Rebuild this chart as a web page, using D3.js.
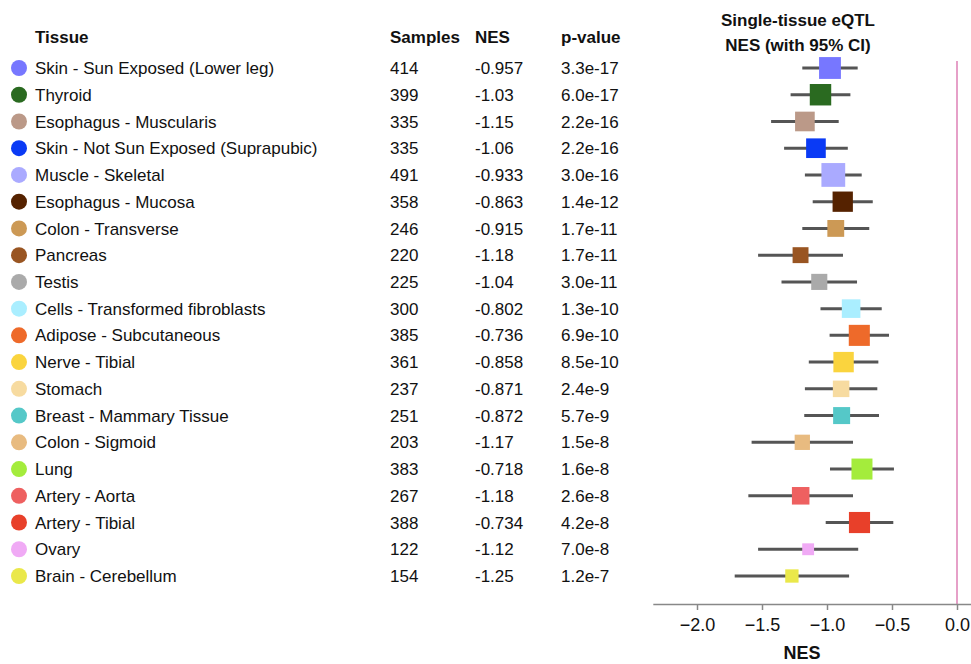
<!DOCTYPE html>
<html>
<head>
<meta charset="utf-8">
<script src="https://cdn.jsdelivr.net/npm/d3@7"></script>
<style>
  body { margin: 0; background: #fff; }
  svg text { font-family: Helvetica, Arial, "Liberation Sans", sans-serif; fill: #111; }
</style>
</head>
<body>
<script>
// table rows, top to bottom
const tissues = [
  "Skin - Sun Exposed (Lower leg)", "Thyroid", "Esophagus - Muscularis",
  "Skin - Not Sun Exposed (Suprapubic)", "Muscle - Skeletal", "Esophagus - Mucosa",
  "Colon - Transverse", "Pancreas", "Testis", "Cells - Transformed fibroblasts",
  "Adipose - Subcutaneous", "Nerve - Tibial", "Stomach", "Breast - Mammary Tissue",
  "Colon - Sigmoid", "Lung", "Artery - Aorta", "Artery - Tibial", "Ovary",
  "Brain - Cerebellum"
];
const samples = [414, 399, 335, 335, 491, 358, 246, 220, 225, 300, 385, 361, 237, 251, 203, 383, 267, 388, 122, 154];
const nes = [-0.957, -1.03, -1.15, -1.06, -0.933, -0.863, -0.915, -1.18, -1.04, -0.802,
             -0.736, -0.858, -0.871, -0.872, -1.17, -0.718, -1.18, -0.734, -1.12, -1.25];
const pvalues = ["3.3e-17", "6.0e-17", "2.2e-16", "2.2e-16", "3.0e-16", "1.4e-12", "1.7e-11",
                 "1.7e-11", "3.0e-11", "1.3e-10", "6.9e-10", "8.5e-10", "2.4e-9", "5.7e-9",
                 "1.5e-8", "1.6e-8", "2.6e-8", "4.2e-8", "7.0e-8", "1.2e-7"];
// 95% CI bounds
const ciLow  = [-1.19, -1.28, -1.43, -1.33, -1.17, -1.11, -1.19, -1.53, -1.35, -1.05,
                -0.98, -1.14, -1.17, -1.175, -1.58, -0.977, -1.605, -1.01, -1.53, -1.71];
const ciHigh = [-0.764, -0.82, -0.91, -0.84, -0.733, -0.648, -0.675, -0.877, -0.769, -0.579,
                -0.523, -0.605, -0.613, -0.60, -0.80, -0.485, -0.80, -0.49, -0.76, -0.83];
const colors = ["#7777ff", "#2a6a20", "#bb9988", "#0a3af5", "#aaaaff", "#552200",
                "#cc9955", "#995522", "#aaaaaa", "#aaeeff", "#ee6a2a", "#fad43e",
                "#f7dba0", "#55c8c8", "#e8bb80", "#a4ec3c", "#ee6060", "#e8402a",
                "#f0aaf5", "#eae84a"];
const xTicks = [-2.0, -1.5, -1.0, -0.5, 0.0];

const width = 971, height = 664;
const fontSize = "17px";

const svg = d3.select("body").append("svg")
  .attr("width", width)
  .attr("height", height);

const rows = tissues.map((t, i) => ({
  tissue: t, samples: samples[i], nes: nes[i], p: pvalues[i],
  lo: ciLow[i], hi: ciHigh[i], color: colors[i]
}));

const y = d3.scalePoint().domain(tissues).range([68, 576]);
const x = d3.scaleLinear().domain([-2.34, 0.12]).range([652.8, 972.6]);
const boxSize = d3.scaleSqrt().domain([0, 500]).range([0, 24]);

// headers
const headers = [["Tissue", 35], ["Samples", 390], ["NES", 475], ["p-value", 561]];
svg.append("g").selectAll("text")
  .data(headers)
  .join("text")
  .attr("x", d => d[1])
  .attr("y", 43)
  .attr("font-size", fontSize)
  .attr("font-weight", "bold")
  .text(d => d[0]);

// table rows
const row = svg.append("g").selectAll("g")
  .data(rows)
  .join("g")
  .attr("transform", d => `translate(0, ${y(d.tissue)})`);

row.append("circle")
  .attr("cx", 19)
  .attr("r", 8)
  .attr("fill", d => d.color);

row.append("text").attr("x", 35).attr("dy", "0.36em").attr("font-size", fontSize).text(d => d.tissue);
row.append("text").attr("x", 390).attr("dy", "0.36em").attr("font-size", fontSize).text(d => d.samples);
row.append("text").attr("x", 475).attr("dy", "0.36em").attr("font-size", fontSize).text(d => d.nes);
row.append("text").attr("x", 561).attr("dy", "0.36em").attr("font-size", fontSize).text(d => d.p);

// plot title
svg.append("text")
  .attr("x", 798).attr("y", 26)
  .attr("text-anchor", "middle")
  .attr("font-size", fontSize).attr("font-weight", "bold")
  .text("Single-tissue eQTL");
svg.append("text")
  .attr("x", 798).attr("y", 51)
  .attr("text-anchor", "middle")
  .attr("font-size", fontSize).attr("font-weight", "bold")
  .text("NES (with 95% CI)");

// zero line
svg.append("line")
  .attr("x1", x(0)).attr("x2", x(0))
  .attr("y1", 61).attr("y2", 604)
  .attr("stroke", "#e6a0c8")
  .attr("stroke-width", 2);

// CI lines
svg.append("g").selectAll("line")
  .data(rows)
  .join("line")
  .attr("x1", d => x(d.lo))
  .attr("x2", d => x(d.hi))
  .attr("y1", d => y(d.tissue))
  .attr("y2", d => y(d.tissue))
  .attr("stroke", "#555")
  .attr("stroke-width", 3);

// effect boxes, centred on the CI middle like in the original
svg.append("g").selectAll("rect")
  .data(rows)
  .join("rect")
  .attr("x", d => x((d.lo + d.hi) / 2) - boxSize(d.samples) / 2)
  .attr("y", d => y(d.tissue) - boxSize(d.samples) / 2)
  .attr("width", d => boxSize(d.samples))
  .attr("height", d => boxSize(d.samples))
  .attr("fill", d => d.color);

// x axis
const axis = svg.append("g")
  .attr("transform", "translate(0, 604)")
  .call(d3.axisBottom(x).tickValues(xTicks).tickFormat(d3.format(".1f")).tickSizeOuter(0).tickPadding(8));
axis.select(".domain").attr("stroke", "#888").attr("stroke-width", 1.5);
axis.selectAll(".tick line").attr("stroke", "#888").attr("stroke-width", 1.5);
axis.selectAll(".tick text")
  .attr("font-size", "18px")
  .attr("font-family", "Helvetica, Arial, 'Liberation Sans', sans-serif")
  .attr("fill", "#111");

svg.append("text")
  .attr("x", 802).attr("y", 659)
  .attr("text-anchor", "middle")
  .attr("font-size", "18px").attr("font-weight", "bold")
  .text("NES");
</script>
</body>
</html>
